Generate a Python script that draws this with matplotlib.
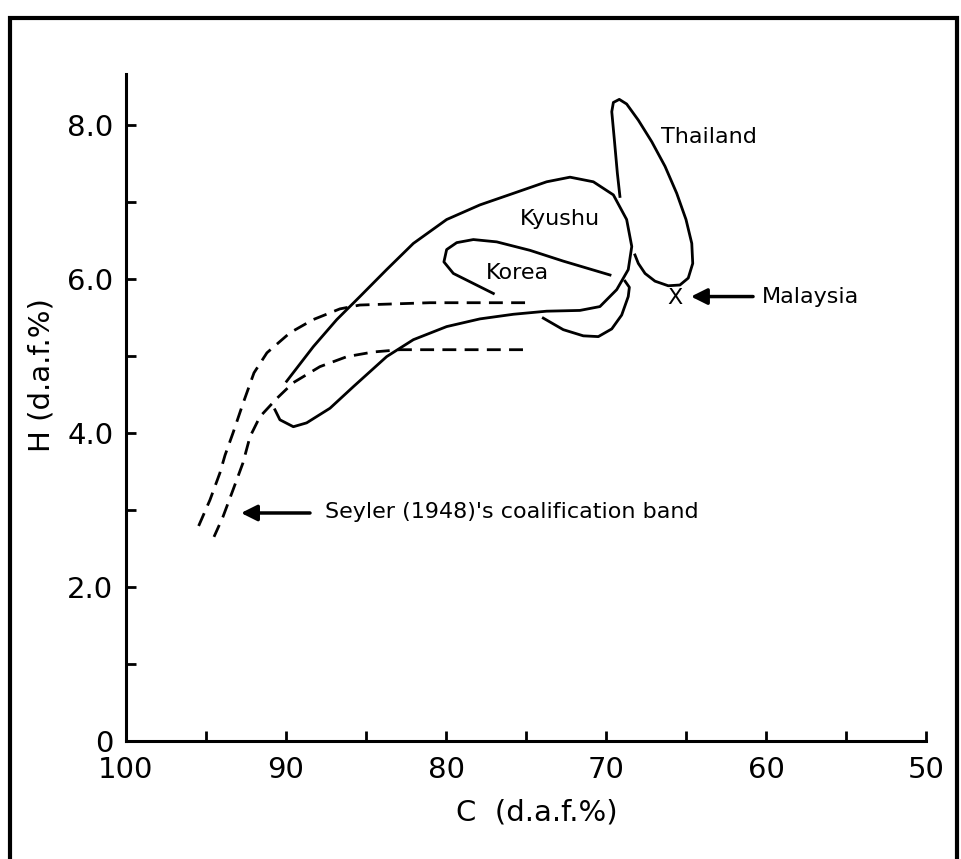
# coalification diagram: H vs C (d.a.f.) for Asian coal fields
import matplotlib.pyplot as plt
from matplotlib.patches import Rectangle

# outlines (C %, H %)
kyushu_c = [89.96, 88.29, 86.83, 85.38, 83.71, 82.04, 79.96, 77.88, 75.79, 73.71, 72.25,
            70.79, 69.54, 68.71, 68.39, 68.61, 69.33, 70.38, 71.63, 73.71, 75.79, 77.88,
            79.96, 82.04, 83.71, 85.79, 87.25, 88.71, 89.54, 90.38, 90.69]
kyushu_h = [4.67, 5.12, 5.47, 5.77, 6.12, 6.46, 6.77, 6.96, 7.11, 7.26, 7.32,
            7.26, 7.09, 6.77, 6.42, 6.12, 5.86, 5.64, 5.59, 5.58, 5.54, 5.48,
            5.38, 5.21, 4.99, 4.60, 4.32, 4.13, 4.08, 4.17, 4.30]

korea_c = [77.04, 78.29, 79.54, 80.13, 79.96, 79.33, 78.29, 76.83, 74.75, 72.67, 69.75]
korea_h = [5.81, 5.94, 6.07, 6.22, 6.38, 6.47, 6.51, 6.48, 6.37, 6.23, 6.05]

lobe_c = [73.92, 72.67, 71.42, 70.48, 69.64, 69.02, 68.61, 68.54, 68.81]
lobe_h = [5.49, 5.34, 5.26, 5.25, 5.35, 5.53, 5.77, 5.89, 5.97]

thai_c = [69.13, 69.29, 69.48, 69.64, 69.54, 69.17, 68.71, 67.98, 67.14, 66.31, 65.58,
          65.0, 64.64, 64.58, 64.86, 65.38, 66.11, 66.94, 67.56, 67.98, 68.19]
thai_h = [7.07, 7.37, 7.81, 8.17, 8.29, 8.33, 8.27, 8.06, 7.78, 7.46, 7.11,
          6.77, 6.46, 6.20, 6.01, 5.92, 5.91, 5.97, 6.07, 6.20, 6.31]

# Seyler (1948) band edges
seyler_up_c = [75.06, 81.0, 85.38, 86.63, 88.31, 89.75, 91.19, 92.0, 92.69, 93.31, 93.81, 94.13, 94.75, 95.63]
seyler_up_h = [5.69, 5.69, 5.66, 5.61, 5.47, 5.30, 5.04, 4.78, 4.38, 4.0, 3.71, 3.48, 3.13, 2.71]
seyler_lo_c = [75.19, 82.88, 84.56, 86.19, 87.88, 89.56, 90.56, 91.63, 92.25, 92.69, 93.31, 93.94, 94.5]
seyler_lo_h = [5.08, 5.08, 5.05, 4.99, 4.86, 4.65, 4.45, 4.21, 3.95, 3.61, 3.26, 2.91, 2.65]

malaysia_c, malaysia_h = 65.69, 5.75

x_ticks = [100, 95, 90, 85, 80, 75, 70, 65, 60, 55, 50]
x_labels = ['100', '', '90', '', '80', '', '70', '', '60', '', '50']
y_ticks = [0, 1, 2, 3, 4, 5, 6, 7, 8]
y_labels = ['0', '', '2.0', '', '4.0', '', '6.0', '', '8.0']

fig = plt.figure(figsize=(9.61, 8.59), dpi=100)
ax = fig.add_axes([0.1311, 0.1374, 0.8325, 0.7765])

lw = 2.0
ax.plot(kyushu_c, kyushu_h, color='black', lw=lw)
ax.plot(korea_c, korea_h, color='black', lw=lw)
ax.plot(lobe_c, lobe_h, color='black', lw=lw)
ax.plot(thai_c, thai_h, color='black', lw=lw)
ax.plot(seyler_up_c, seyler_up_h, color='black', lw=lw, linestyle=(0, (5, 3)))
ax.plot(seyler_lo_c, seyler_lo_h, color='black', lw=lw, linestyle=(0, (5, 3)))

tfs = 16
ax.text(malaysia_c, malaysia_h, 'X', fontsize=tfs, ha='center', va='center')
ax.text(63.56, 7.84, 'Thailand', fontsize=tfs, ha='center', va='center')
ax.text(72.88, 6.78, 'Kyushu', fontsize=tfs, ha='center', va='center')
ax.text(75.56, 6.08, 'Korea', fontsize=tfs, ha='center', va='center')
ax.text(60.27, 5.77, 'Malaysia', fontsize=tfs, ha='left', va='center')
ax.text(87.56, 2.97, "Seyler (1948)'s coalification band", fontsize=tfs, ha='left', va='center')

arrow = dict(arrowstyle='-|>', lw=2.5, color='black', mutation_scale=24, shrinkA=0, shrinkB=0)
ax.annotate('', xy=(64.69, 5.77), xytext=(60.81, 5.77), arrowprops=arrow)
ax.annotate('', xy=(92.81, 2.96), xytext=(88.5, 2.96), arrowprops=arrow)

ax.set_xlim(100, 50)
ax.set_ylim(0, 8.66)
ax.set_xticks(x_ticks)
ax.set_xticklabels(x_labels)
ax.set_yticks(y_ticks)
ax.set_yticklabels(y_labels)
ax.tick_params(direction='in', length=7, width=2, labelsize=21)
ax.tick_params(axis='x', pad=11)
ax.tick_params(axis='y', pad=9)
for s in ['top', 'right']:
    ax.spines[s].set_visible(False)
for s in ['left', 'bottom']:
    ax.spines[s].set_linewidth(2.2)

fig.text(537 / 961, 1 - 812 / 859, 'C  (d.a.f.%)', fontsize=21, ha='center', va='center')
fig.text(42 / 961, 1 - 375 / 859, 'H (d.a.f.%)', fontsize=21, ha='center', va='center', rotation=90)

# outer frame
fig.patches.append(Rectangle((10 / 961, -0.02), 947 / 961, 1.02 - 18 / 859, transform=fig.transFigure,
                             fill=False, lw=3, edgecolor='black'))

fig.savefig('out.png', dpi=100)
